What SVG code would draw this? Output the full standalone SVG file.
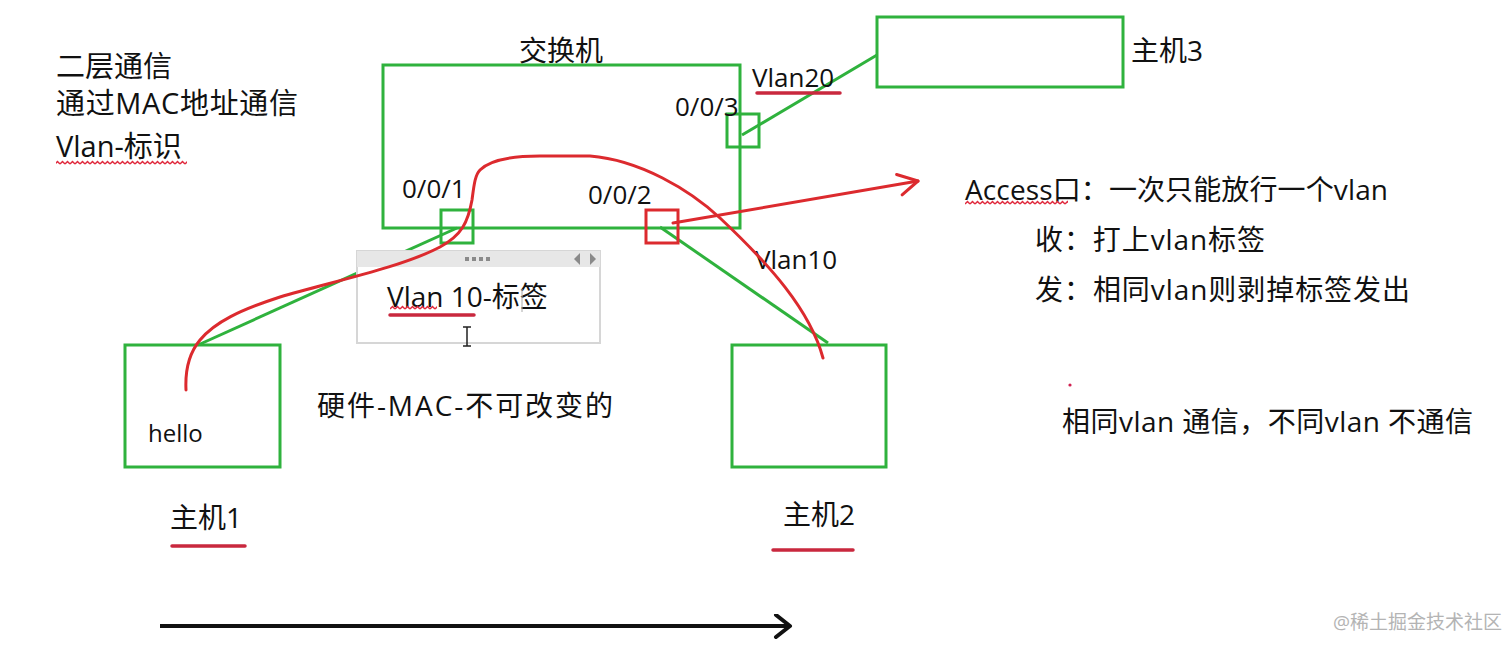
<svg xmlns="http://www.w3.org/2000/svg" width="1512" height="654" viewBox="0 0 1512 654">
<style>
text{font-family:"Open Sans","Noto Sans CJK SC",sans-serif;fill:#111}
.g{fill:none;stroke:#2fb23d;stroke-width:3}
.r{fill:none;stroke:#dc2a2e;stroke-width:3;stroke-linecap:round;stroke-linejoin:round}
.u{stroke:#c9283e;stroke-width:3.5;stroke-linecap:round}
.t28{font-size:28px}.t26{font-size:26px}
</style>
<defs>
<pattern id="wave" x="0" y="0" width="5" height="5" patternUnits="userSpaceOnUse">
<polyline points="0,4 2.5,1.5 5,4" fill="none" stroke="#e0283c" stroke-width="1.5"/>
</pattern>
<marker id="chevR" markerWidth="30" markerHeight="30" refX="22" refY="12" orient="auto" markerUnits="userSpaceOnUse">
<path d="M2,2 L22,12 L4,23" fill="none" stroke="#dc2a2e" stroke-width="3" stroke-linecap="round" stroke-linejoin="round"/>
</marker>
<marker id="chevK" markerWidth="30" markerHeight="30" refX="18" refY="12" orient="auto" markerUnits="userSpaceOnUse">
<path d="M4,1 L18,12 L4,23" fill="none" stroke="#111" stroke-width="4" stroke-linecap="round" stroke-linejoin="round"/>
</marker>
</defs>
<rect width="1512" height="654" fill="#fff"/>

<g id="notes-left">
<text x="56" y="77" style="font-size:29px">二层通信</text>
<text x="56" y="114" style="font-size:29px" textLength="242" lengthAdjust="spacing">通过MAC地址通信</text>
<text x="56" y="157" style="font-size:29px">Vlan-标识</text>
<rect x="56" y="160" width="131" height="5" fill="url(#wave)"/>
</g>

<g id="connectors">
<line class="g" x1="198" y1="345" x2="457" y2="228"/>
<line class="g" x1="660" y1="227" x2="828" y2="343"/>
<line class="g" x1="742" y1="135" x2="877" y2="55"/>
</g>

<g id="switch">
<rect class="g" x="383" y="65" width="357" height="163"/>
<text class="t28" x="519" y="61">交换机</text>
</g>
<g id="port-001">
<rect class="g" x="441" y="210" width="32" height="33"/>
<text class="t26" x="402" y="198">0/0/1</text>
</g>
<g id="port-002">
<rect x="646" y="210" width="32" height="33" fill="none" stroke="#dc2a2e" stroke-width="3"/>
<text class="t26" x="588" y="204">0/0/2</text>
</g>
<g id="port-003">
<rect class="g" x="727" y="114" width="32" height="33"/>
<text class="t26" x="675" y="116">0/0/3</text>
</g>

<g id="host3">
<rect class="g" x="877" y="17" width="246" height="70"/>
<text class="t28" x="1131" y="61">主机3</text>
</g>
<g id="vlan20">
<text class="t26" x="752" y="87">Vlan20</text>
</g>
<g id="vlan10">
<text class="t26" x="755" y="269">Vlan10</text>
</g>

<g id="host1">
<rect class="g" x="125" y="345" width="155" height="122"/>
<text x="148" y="442" style="font-size:24px">hello</text>
<text class="t28" x="170" y="528">主机1</text>
</g>
<g id="host2">
<rect class="g" x="732" y="345" width="154" height="122"/>
<text class="t28" x="783" y="525">主机2</text>
</g>

<g id="popup">
<rect x="357" y="251" width="243" height="92" fill="#fff" stroke="#d6d6d6" stroke-width="2"/>
<rect x="357" y="251" width="243" height="16" fill="#e7e7e7"/>
<g fill="#8a8a8a">
<rect x="465" y="257" width="4" height="4"/><rect x="472" y="257" width="4" height="4"/>
<rect x="479" y="257" width="4" height="4"/><rect x="486" y="257" width="4" height="4"/>
<path d="M580,253 L574,259 L580,265 Z"/><path d="M590,253 L596,259 L590,265 Z"/>
</g>
<text x="387" y="307" class="t28">Vlan 10-标签</text>
<line x1="522" y1="289" x2="522" y2="312" stroke="#aaa" stroke-width="1"/>
<rect x="390" y="305" width="47" height="5" fill="url(#wave)"/>
<path d="M463,327 h8 M467,327 v19 M463,346 h8" stroke="#222" stroke-width="1.5" fill="none"/>
</g>

<g id="ink">
<path class="r" d="M186,390 C185,370 190,352 200,340 C215,322 240,310 280,297 C330,282 400,268 440,247 C462,235 468,222 472,200 C474,185 475,175 480,170 C490,160 510,156 540,156 L590,156 C640,160 690,190 720,218 C770,265 810,310 823,358"/>
<line class="r" x1="673" y1="223" x2="918" y2="181" marker-end="url(#chevR)"/>
<line class="u" x1="757" y1="93" x2="840" y2="93"/>
<line class="u" x1="390" y1="315" x2="474" y2="315"/>
<line class="u" x1="172" y1="546" x2="245" y2="546"/>
<line class="u" x1="773" y1="550" x2="853" y2="550"/>
<circle cx="1070" cy="385" r="1.6" fill="#d02050"/>
</g>

<g id="access-notes">
<text class="t28" x="965" y="200" textLength="423" lengthAdjust="spacing">Access口：一次只能放行一个vlan</text>
<rect x="965" y="200" width="103" height="5" fill="url(#wave)"/>
<text class="t28" x="1035" y="250" textLength="230" lengthAdjust="spacing">收：打上vlan标签</text>
<text class="t28" x="1035" y="300" textLength="375" lengthAdjust="spacing">发：相同vlan则剥掉标签发出</text>
<text class="t28" x="1062" y="432" textLength="411" lengthAdjust="spacing">相同vlan 通信，不同vlan 不通信</text>
</g>

<g id="mac-note">
<text class="t28" x="317" y="416" textLength="296" lengthAdjust="spacing">硬件-MAC-不可改变的</text>
</g>

<g id="timeline">
<line x1="160" y1="626" x2="790" y2="626" stroke="#111" stroke-width="4" marker-end="url(#chevK)"/>
</g>

<text x="1333" y="629" style="font-size:19px;fill:#b4b4b4">@稀土掘金技术社区</text>
</svg>
